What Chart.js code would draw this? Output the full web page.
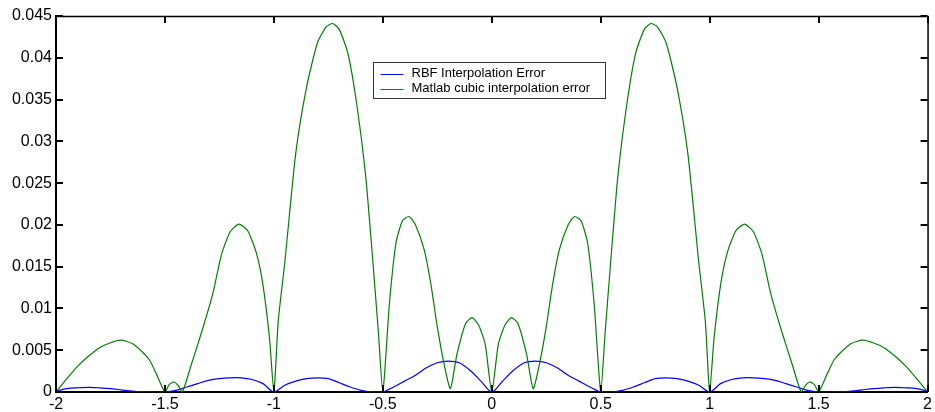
<!DOCTYPE html>
<html>
<head>
<meta charset="utf-8">
<script src="https://cdn.jsdelivr.net/npm/chart.js@4.4.1/dist/chart.umd.min.js"></script>
<style>
  html, body { margin: 0; padding: 0; background: #fff; }
  #wrap { width: 935px; height: 412px; position: relative; }
</style>
</head>
<body>
<div id="wrap"><canvas id="chart"></canvas></div>
<script>
// tick positions
const xTicks = [-2, -1.5, -1, -0.5, 0, 0.5, 1, 1.5, 2];
const yTicks = [0, 0.005, 0.01, 0.015, 0.02, 0.025, 0.03, 0.035, 0.04, 0.045];

// series labels
const seriesNames = ['RBF Interpolation Error', 'Matlab cubic interpolation error'];

// RBF error
const rbfX = [-2, -1.95, -1.9, -1.85, -1.8, -1.75, -1.7, -1.65, -1.6, -1.55, -1.5,
  -1.45, -1.4, -1.35, -1.3, -1.25, -1.2, -1.15, -1.1, -1.05, -1,
  -0.95, -0.9, -0.85, -0.8, -0.75, -0.7, -0.65, -0.6, -0.55, -0.5,
  -0.45, -0.4, -0.35, -0.3, -0.25, -0.2, -0.15, -0.1, -0.05, 0,
  0.05, 0.1, 0.15, 0.2, 0.25, 0.3, 0.35, 0.4, 0.45, 0.5,
  0.55, 0.6, 0.65, 0.7, 0.75, 0.8, 0.85, 0.9, 0.95, 1,
  1.05, 1.1, 1.15, 1.2, 1.25, 1.3, 1.35, 1.4, 1.45, 1.5,
  1.55, 1.6, 1.65, 1.7, 1.75, 1.8, 1.85, 1.9, 1.95, 2];
const rbfY = [0.0001, 0.0004, 0.0005, 0.00056, 0.0005, 0.0004, 0.00025, 0.0001, 0.00002, 0, 0,
  0.0002, 0.0006, 0.001, 0.0014, 0.0016, 0.0017, 0.0017, 0.0015, 0.001, 0,
  0.0008, 0.0013, 0.0016, 0.0017, 0.0016, 0.0011, 0.0006, 0.0002, 0, 0,
  0.0006, 0.0013, 0.002, 0.0029, 0.0035, 0.0037, 0.0035, 0.0026, 0.0013, 0,
  0.0013, 0.0026, 0.0035, 0.0037, 0.0035, 0.0029, 0.002, 0.0013, 0.0006, 0,
  0, 0.0002, 0.0006, 0.0011, 0.0016, 0.0017, 0.0016, 0.0013, 0.0008, 0,
  0.001, 0.0015, 0.0017, 0.0017, 0.0016, 0.0014, 0.001, 0.0006, 0.0002, 0,
  0, 0.00002, 0.0001, 0.00025, 0.0004, 0.0005, 0.00056, 0.0005, 0.0004, 0.0001];

// Matlab cubic error
const cubicX = [-2, -1.95, -1.9, -1.85, -1.8, -1.75, -1.7, -1.65, -1.6, -1.57, -1.54, -1.5,
  -1.48, -1.46, -1.44, -1.42, -1.38, -1.33, -1.28, -1.24, -1.2, -1.16, -1.12, -1.08, -1.05, -1.02, -1,
  -0.98, -0.95, -0.9, -0.85, -0.8, -0.76, -0.73, -0.7, -0.66, -0.62, -0.58, -0.55, -0.52, -0.5,
  -0.47, -0.44, -0.41, -0.38, -0.35, -0.31, -0.28, -0.25, -0.22, -0.19,
  -0.16, -0.12, -0.09, -0.06, -0.03, 0,
  0.03, 0.06, 0.09, 0.12, 0.16,
  0.19, 0.22, 0.25, 0.28, 0.31, 0.35, 0.38, 0.41, 0.44, 0.47, 0.5,
  0.52, 0.55, 0.58, 0.62, 0.66, 0.7, 0.73, 0.76, 0.8, 0.85, 0.9, 0.95, 0.98, 1,
  1.02, 1.05, 1.08, 1.12, 1.16, 1.2, 1.24, 1.28, 1.33, 1.38, 1.42, 1.44, 1.46, 1.48, 1.5,
  1.54, 1.57, 1.6, 1.65, 1.7, 1.75, 1.8, 1.85, 1.9, 1.95, 2];
const cubicY = [0, 0.0016, 0.0031, 0.0043, 0.0053, 0.0059, 0.0062, 0.0058, 0.0047, 0.0038, 0.0022, 0,
  0.0009, 0.0012, 0.0008, 0, 0.0032, 0.0073, 0.0118, 0.0165, 0.0192, 0.0201, 0.0193, 0.0166, 0.0128, 0.0064, 0,
  0.0085, 0.0155, 0.0285, 0.0365, 0.0418, 0.0437, 0.0441, 0.0434, 0.0405, 0.0345, 0.0262, 0.017, 0.007, 0,
  0.0105, 0.0178, 0.0205, 0.021, 0.02, 0.017, 0.013, 0.0078, 0.0035, 0.0004,
  0.0045, 0.0082, 0.0089, 0.008, 0.0057, 0,
  0.0057, 0.008, 0.0089, 0.0082, 0.0045,
  0.0004, 0.0035, 0.0078, 0.013, 0.017, 0.02, 0.021, 0.0205, 0.0178, 0.0105, 0,
  0.007, 0.017, 0.0262, 0.0345, 0.0405, 0.0434, 0.0441, 0.0437, 0.0418, 0.0365, 0.0285, 0.0155, 0.0085, 0,
  0.0064, 0.0128, 0.0166, 0.0193, 0.0201, 0.0192, 0.0165, 0.0118, 0.0073, 0.0032, 0, 0.0008, 0.0012, 0.0009, 0,
  0.0022, 0.0038, 0.0047, 0.0058, 0.0062, 0.0059, 0.0053, 0.0043, 0.0031, 0.0016, 0];

const toPoints = (xs, ys) => xs.map((x, i) => ({ x: x, y: ys[i] }));

// matlab style box, inward ticks and legend inside the axes
const matlabAxes = {
  id: 'matlabAxes',
  afterDraw(chart) {
    const c = chart.ctx;
    const a = chart.chartArea;
    const xs = chart.scales.x, ys = chart.scales.y;
    c.save();
    c.strokeStyle = '#000';
    c.lineWidth = 1.5;
    c.beginPath();
    c.moveTo(a.left, a.top + 0.5);
    c.lineTo(a.right + 0.5, a.top + 0.5);
    c.lineTo(a.right + 0.5, a.bottom);
    c.stroke();
    const tl = 7;
    c.lineWidth = 2;
    c.beginPath();
    xTicks.forEach(v => {
      const px = Math.round(xs.getPixelForValue(v));
      c.moveTo(px, a.bottom); c.lineTo(px, a.bottom - tl);
      c.moveTo(px, a.top); c.lineTo(px, a.top + tl);
    });
    yTicks.forEach(v => {
      const py = Math.round(ys.getPixelForValue(v));
      c.moveTo(a.left, py); c.lineTo(a.left + tl, py);
      c.moveTo(a.right, py); c.lineTo(a.right - tl, py);
    });
    c.stroke();

    // legend box
    const bx = 373.5, by = 62.5, bw = 232, bh = 36;
    c.fillStyle = '#fff';
    c.fillRect(bx, by, bw, bh);
    c.lineWidth = 1;
    c.strokeStyle = '#333';
    c.strokeRect(bx, by, bw, bh);
    c.font = '13px "Liberation Sans", Arial, sans-serif';
    c.textBaseline = 'middle';
    chart.data.datasets.forEach((ds, i) => {
      const ly = by + 11 + i * 15;
      c.strokeStyle = ds.borderColor;
      c.beginPath();
      c.moveTo(bx + 7, Math.round(ly) + 0.5);
      c.lineTo(bx + 30, Math.round(ly) + 0.5);
      c.stroke();
      c.fillStyle = '#000';
      c.fillText(ds.label, bx + 38, ly);
    });
    c.restore();
  }
};

const ctx = document.getElementById('chart').getContext('2d');
const chart = new Chart(ctx, {
  type: 'line',
  data: {
    datasets: [
      {
        label: seriesNames[0],
        data: toPoints(rbfX, rbfY),
        borderColor: '#0000ff',
        borderWidth: 1.2,
        pointRadius: 0,
        tension: 0.3,
        order: 2
      },
      {
        label: seriesNames[1],
        data: toPoints(cubicX, cubicY),
        borderColor: '#008000',
        borderWidth: 1.2,
        pointRadius: 0,
        tension: 0.2,
        order: 1
      }
    ]
  },
  options: {
    responsive: true,
    maintainAspectRatio: false,
    animation: false,
    layout: { padding: { top: 16, right: 5, left: 0, bottom: 0 } },
    plugins: {
      legend: { display: false },
      tooltip: { enabled: false }
    },
    scales: {
      x: {
        type: 'linear',
        min: -2,
        max: 2,
        afterBuildTicks: s => { s.ticks = xTicks.map(v => ({ value: v })); },
        afterFit: s => { s.height = 20; },
        grid: { display: false, drawTicks: false, tickLength: 0 },
        border: { display: true, color: '#000', width: 2 },
        ticks: {
          color: '#000',
          padding: 3,
          maxRotation: 0,
          font: { family: '"Liberation Sans", Arial, sans-serif', size: 16 },
          callback: v => String(v)
        }
      },
      y: {
        min: 0,
        max: 0.045,
        afterBuildTicks: s => { s.ticks = yTicks.map(v => ({ value: v })); },
        afterFit: s => { s.width = 56; },
        grid: { display: false, drawTicks: false, tickLength: 0 },
        border: { display: true, color: '#000', width: 2 },
        ticks: {
          color: '#000',
          padding: 4,
          font: { family: '"Liberation Sans", Arial, sans-serif', size: 16 },
          callback: v => String(v)
        }
      }
    }
  },
  plugins: [matlabAxes]
});
</script>
</body>
</html>
